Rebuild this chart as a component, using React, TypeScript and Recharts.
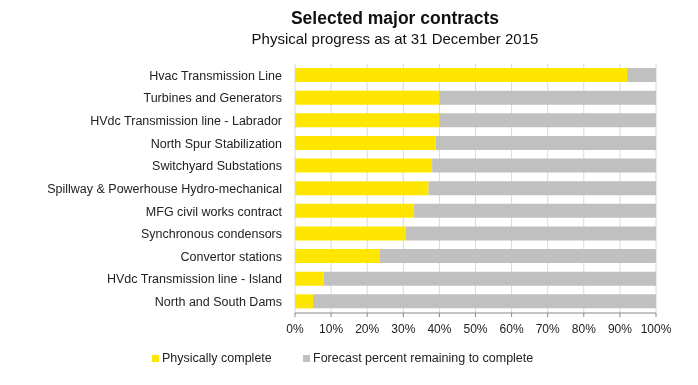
import React from "react";
import { BarChart, Bar, XAxis, YAxis, CartesianGrid } from "recharts";

const contracts = [
  "Hvac Transmission Line",
  "Turbines and Generators",
  "HVdc Transmission line - Labrador",
  "North Spur Stabilization",
  "Switchyard Substations",
  "Spillway & Powerhouse Hydro-mechanical ",
  "MFG civil works contract",
  "Synchronous condensors",
  "Convertor stations",
  "HVdc Transmission line - Island",
  "North and South Dams",
];

const complete = [92, 40, 40, 39, 38, 37, 33, 30.6, 23.5, 8, 5];

const percentTicks = [0, 0.1, 0.2, 0.3, 0.4, 0.5, 0.6, 0.7, 0.8, 0.9, 1];

// tick marks on the category axis sit between the bars
const rowEdges = [0, 1, 2, 3, 4, 5, 6, 7, 8, 9, 10, 11];

const YELLOW = "#FFE600";
const GREY = "#C0C0C0";
const FONT = "'Liberation Sans', Arial, sans-serif";

const data = contracts.map((name, i) => ({
  name,
  done: complete[i] / 100,
  remaining: (100 - complete[i]) / 100,
}));

const LegendItem: React.FC<{ color: string; label: string; left: number }> = ({
  color,
  label,
  left,
}) => (
  <div
    style={{
      position: "absolute",
      left,
      top: 351,
      display: "flex",
      alignItems: "center",
      fontSize: 12.5,
      color: "#222",
    }}
  >
    <span
      style={{ width: 7, height: 7, background: color, marginRight: 3, display: "inline-block" }}
    />
    {label}
  </div>
);

export default function App() {
  return (
    <div
      style={{
        position: "fixed",
        left: 0,
        top: 0,
        width: 698,
        height: 385,
        background: "#fff",
        fontFamily: FONT,
      }}
    >
      <div
        style={{
          position: "absolute",
          top: 8,
          left: 0,
          width: 790,
          textAlign: "center",
          fontWeight: "bold",
          fontSize: 17.5,
          color: "#111",
        }}
      >
        Selected major contracts
      </div>
      <div
        style={{
          position: "absolute",
          top: 30,
          left: 0,
          width: 790,
          textAlign: "center",
          fontSize: 15,
          color: "#111",
        }}
      >
        Physical progress as at 31 December 2015
      </div>
      <BarChart
        width={698}
        height={385}
        data={data}
        layout="vertical"
        margin={{ top: 64, right: 42, bottom: 42, left: 0 }}
        barSize={14}
      >
        <CartesianGrid horizontal={false} stroke="#D9D9D9" />
        <XAxis
          type="number"
          domain={[0, 1]}
          ticks={percentTicks}
          tickFormatter={(v: number) => `${Math.round(v * 100)}%`}
          stroke="#888"
          tickSize={4}
          tickMargin={7}
          height={30}
          tick={{ fontSize: 12, fill: "#222", fontFamily: FONT }}
          interval={0}
        />
        <YAxis
          yAxisId="edges"
          type="number"
          domain={[0, 11]}
          ticks={rowEdges}
          interval={0}
          width={0}
          stroke="#888"
          tickSize={4}
          tickFormatter={() => ""}
        />
        <YAxis
          yAxisId="rows"
          type="category"
          dataKey="name"
          width={295}
          axisLine={false}
          tickLine={false}
          tickSize={4}
          tickMargin={9}
          interval={0}
          tick={{ fontSize: 12.5, fill: "#222", fontFamily: FONT }}
        />
        <Bar yAxisId="rows" dataKey="done" stackId="a" fill={YELLOW} isAnimationActive={false} />
        <Bar yAxisId="rows" dataKey="remaining" stackId="a" fill={GREY} isAnimationActive={false} />
      </BarChart>
      <LegendItem color={YELLOW} label="Physically complete" left={152} />
      <LegendItem color={GREY} label="Forecast percent remaining to complete" left={303} />
    </div>
  );
}
